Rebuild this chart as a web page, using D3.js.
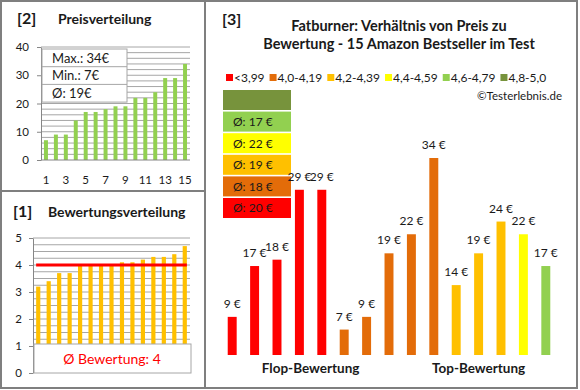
<!DOCTYPE html>
<html>
<head>
<meta charset="utf-8">
<script src="https://cdn.jsdelivr.net/npm/d3@7"></script>
<style>
  body { margin: 0; background: #fff; }
  svg { display: block; font-family: Lato, Carlito, Calibri, sans-serif; }
</style>
</head>
<body>
<div id="chart"></div>
<script>
// panel [2] price distribution
const priceValues = [7, 9, 9, 14, 17, 17, 18, 19, 19, 22, 22, 24, 29, 29, 34];
const priceTicks = [0, 10, 20, 30, 40];
const priceXTicks = [1, 3, 5, 7, 9, 11, 13, 15];
const priceStats = ['Max.: 34€', 'Min.: 7€', 'Ø: 19€'];

// panel [1] rating distribution
const ratingValues = [3.2, 3.4, 3.7, 3.7, 4.0, 4.0, 4.0, 4.0, 4.1, 4.1, 4.2, 4.3, 4.3, 4.4, 4.7];
const ratingTicks = [0, 1, 2, 3, 4, 5];
const ratingAvg = 4;

// panel [3] price vs rating
const classNames = ['<3,99', '4,0-4,19', '4,2-4,39', '4,4-4,59', '4,6-4,79', '4,8-5,0'];
const classColors = ['#FF0000', '#E36C09', '#FFC000', '#FFFF00', '#92D050', '#77933C'];
const classAverages = [20, 18, 19, 22, 17, null];
const testPrices = [9, 17, 18, 29, 29, 7, 9, 19, 22, 34, 14, 19, 24, 22, 17];
const testClass = [0, 0, 0, 0, 0, 1, 1, 1, 1, 1, 2, 2, 2, 3, 4];
const groupNames = ['Flop-Bewertung', 'Top-Bewertung'];
const groupSizes = [8, 7];

const W = 580, H = 390;
const gridColor = '#A6A6A6';
const frameColor = '#7F7F7F';
const textColor = '#1a1a1a';

const svg = d3.select('#chart').append('svg')
  .attr('width', W)
  .attr('height', H);

// frames
svg.append('rect')
  .attr('x', 1).attr('y', 1)
  .attr('width', 576).attr('height', 387)
  .attr('fill', 'none').attr('stroke', frameColor).attr('stroke-width', 2);
svg.append('line')
  .attr('x1', 205).attr('x2', 205).attr('y1', 1).attr('y2', 388)
  .attr('stroke', frameColor).attr('stroke-width', 2);
svg.append('line')
  .attr('x1', 1).attr('x2', 205).attr('y1', 191).attr('y2', 191)
  .attr('stroke', frameColor).attr('stroke-width', 2);

const addTitle = (num, numX, title, titleX, y) => {
  svg.append('text')
    .attr('x', numX).attr('y', y)
    .attr('font-size', '16px').attr('font-weight', 'bold')
    .attr('fill', textColor)
    .text(num);
  svg.append('text')
    .attr('x', titleX).attr('y', y)
    .attr('font-size', '14px').attr('font-weight', 'bold')
    .attr('fill', textColor)
    .text(title);
};

const drawGrid = (g, y, step, x0, x1) => {
  const [lo, hi] = y.domain();
  d3.range(lo + step, hi + step / 2, step).forEach(v => {
    g.append('line')
      .attr('x1', x0).attr('x2', x1)
      .attr('y1', y(v)).attr('y2', y(v))
      .attr('stroke', gridColor).attr('stroke-width', 1);
  });
};

const styleAxis = (g) => {
  g.select('.domain').attr('stroke', '#868686');
  g.selectAll('.tick line').attr('stroke', '#868686');
  g.selectAll('.tick text')
    .attr('fill', textColor)
    .style('font-size', '11.5px')
    .style('font-family', 'Lato, Carlito, Calibri, sans-serif');
};

// ---------- panel [2] ----------
addTitle('[2]', 17, 'Preisverteilung', 58, 24);

const px = d3.scaleBand()
  .domain(d3.range(1, priceValues.length + 1))
  .range([41, 190])
  .paddingInner(0.6)
  .paddingOuter(0.3);
const py = d3.scaleLinear().domain([0, 40]).range([160, 47]);

const p2 = svg.append('g');
drawGrid(p2, py, 2, 41, 190);

p2.selectAll('.pbar')
  .data(priceValues)
  .join('rect')
  .attr('class', 'pbar')
  .attr('x', (d, i) => px(i + 1))
  .attr('width', px.bandwidth())
  .attr('y', d => py(d))
  .attr('height', d => py(0) - py(d))
  .attr('fill', '#92D050');

p2.append('g')
  .attr('transform', 'translate(41,0)')
  .call(d3.axisLeft(py).tickValues(priceTicks).tickSize(4).tickPadding(8).tickSizeOuter(0))
  .call(styleAxis);

p2.append('g')
  .attr('transform', 'translate(0,160)')
  .call(d3.axisBottom(px).tickValues(priceXTicks).tickSize(0).tickPadding(16).tickSizeOuter(0))
  .call(styleAxis)
  .call(g => g.select('.domain').attr('d', 'M41,0H190'));

// stats box
const statBox = p2.append('g').attr('transform', 'translate(42,49)');
const statRow = 17.7;
statBox.append('rect')
  .attr('width', 85).attr('height', statRow * priceStats.length)
  .attr('fill', '#fff').attr('stroke', '#A6A6A6');
priceStats.forEach((s, i) => {
  if (i > 0) {
    statBox.append('line')
      .attr('x1', 0).attr('x2', 85)
      .attr('y1', i * statRow).attr('y2', i * statRow)
      .attr('stroke', '#A6A6A6');
  }
  statBox.append('text')
    .attr('x', 10).attr('y', i * statRow + statRow / 2)
    .attr('dy', '0.36em')
    .attr('font-size', '13px')
    .attr('fill', textColor)
    .text(s);
});

// ---------- panel [1] ----------
addTitle('[1]', 13, 'Bewertungsverteilung', 48, 217);

const rx = d3.scaleBand()
  .domain(d3.range(1, ratingValues.length + 1))
  .range([33, 190])
  .paddingInner(0.6)
  .paddingOuter(0.3);
const ry = d3.scaleLinear().domain([0, 5]).range([373, 238]);

const p1 = svg.append('g');
drawGrid(p1, ry, 0.25, 33, 190);

p1.selectAll('.rbar')
  .data(ratingValues)
  .join('rect')
  .attr('class', 'rbar')
  .attr('x', (d, i) => rx(i + 1))
  .attr('width', rx.bandwidth())
  .attr('y', d => ry(d))
  .attr('height', d => ry(0) - ry(d))
  .attr('fill', '#FFC000');

p1.append('g')
  .attr('transform', 'translate(33,0)')
  .call(d3.axisLeft(ry).tickValues(ratingTicks).tickFormat(d3.format('d')).tickSize(4).tickPadding(7).tickSizeOuter(0))
  .call(styleAxis);

// average line
p1.append('line')
  .attr('x1', rx(1)).attr('x2', rx(ratingValues.length) + rx.bandwidth())
  .attr('y1', ry(ratingAvg)).attr('y2', ry(ratingAvg))
  .attr('stroke', '#FF0000').attr('stroke-width', 3);

// average box covering 0..1
p1.append('rect')
  .attr('x', 34).attr('y', ry(1) - 2)
  .attr('width', 157).attr('height', ry(0) - ry(1) + 2)
  .attr('fill', '#fff').attr('stroke', '#A6A6A6');
p1.append('text')
  .attr('x', 112).attr('y', (ry(1) + ry(0)) / 2 - 1)
  .attr('dy', '0.36em')
  .attr('text-anchor', 'middle')
  .attr('font-size', '14px')
  .attr('fill', '#FF0000')
  .text(`Ø Bewertung: ${ratingAvg}`);

// ---------- panel [3] ----------
svg.append('text')
  .attr('x', 222).attr('y', 25)
  .attr('font-size', '16px').attr('font-weight', 'bold')
  .attr('fill', textColor)
  .text('[3]');
[['Fatburner: Verhältnis von Preis zu', 31], ['Bewertung - 15 Amazon Bestseller im Test', 49]].forEach(([t, y]) => {
  svg.append('text')
    .attr('x', 399).attr('y', y)
    .attr('text-anchor', 'middle')
    .attr('font-size', '14.5px').attr('font-weight', 'bold')
    .attr('fill', textColor)
    .text(t);
});

// legend
let lx = 226;
classNames.forEach((name, i) => {
  svg.append('rect')
    .attr('x', lx).attr('y', 74)
    .attr('width', 7).attr('height', 7)
    .attr('fill', classColors[i]);
  const t = svg.append('text')
    .attr('x', lx + 8).attr('y', 77.5)
    .attr('dy', '0.36em')
    .attr('font-size', '12px')
    .attr('fill', textColor)
    .text(name);
  lx += 8 + t.node().getComputedTextLength() + 5;
});

svg.append('text')
  .attr('x', 562).attr('y', 100)
  .attr('text-anchor', 'end')
  .attr('font-size', '11.5px')
  .attr('fill', textColor)
  .text('©Testerlebnis.de');

// stacked average boxes
const boxStep = 21.6;
classColors.forEach((c, i) => {
  const by = 198 - i * boxStep;
  svg.append('rect')
    .attr('x', 223).attr('y', by)
    .attr('width', 68).attr('height', boxStep - 1.6)
    .attr('fill', c);
  if (classAverages[i] != null) {
    svg.append('text')
      .attr('x', 233).attr('y', by + (boxStep - 1.6) / 2)
      .attr('dy', '0.36em')
      .attr('font-size', '12px')
      .attr('fill', textColor)
      .text(`Ø: ${classAverages[i]} €`);
  }
});

const bx = d3.scaleBand()
  .domain(d3.range(testPrices.length))
  .range([221, 557])
  .paddingInner(0.6)
  .paddingOuter(0.3);
const by = d3.scaleLinear().domain([3, 34]).range([355, 158]);

svg.selectAll('.tbar')
  .data(testPrices)
  .join('rect')
  .attr('class', 'tbar')
  .attr('x', (d, i) => bx(i))
  .attr('width', bx.bandwidth())
  .attr('y', d => by(d))
  .attr('height', d => by(3) - by(d))
  .attr('fill', (d, i) => classColors[testClass[i]]);

svg.selectAll('.tlabel')
  .data(testPrices)
  .join('text')
  .attr('class', 'tlabel')
  .attr('x', (d, i) => bx(i) + bx.bandwidth() / 2)
  .attr('y', d => by(d) - 9)
  .attr('text-anchor', 'middle')
  .attr('font-size', '12px')
  .attr('fill', textColor)
  .text(d => `${d} €`);

// group labels
let start = 0;
groupNames.forEach((g, i) => {
  const first = bx(start);
  const last = bx(start + groupSizes[i] - 1) + bx.bandwidth();
  svg.append('text')
    .attr('x', (first + last) / 2).attr('y', 373)
    .attr('text-anchor', 'middle')
    .attr('font-size', '13.5px').attr('font-weight', 'bold')
    .attr('fill', textColor)
    .text(g);
  start += groupSizes[i];
});
</script>
</body>
</html>
